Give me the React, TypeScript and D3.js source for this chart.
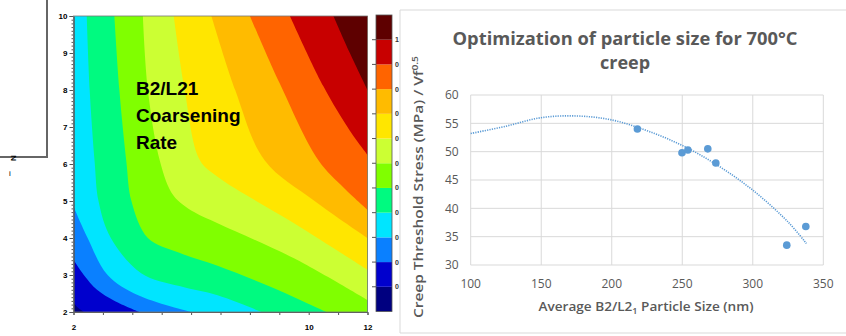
import React, { useEffect, useRef } from "react";
import * as d3 from "d3";

// --- contour map: each level boundary as [x, y] points,
// running from the top/left edge to the bottom/right edge (level k = start of band k)
const levelBoundaries: [number, number][][] = [
  [[2, 2.26], [2.15, 2.12], [2.35, 2.0]],
  [[2, 3.41], [2.35, 3.0], [2.8, 2.6], [3.4, 2.3], [4.25, 2.0]],
  [[2, 4.85], [2.48, 4.0], [3.16, 3.0], [4.2, 2.45], [6.0, 2.0]],
  [[2.45, 10], [2.55, 8], [2.72, 6.05], [2.85, 5], [3.27, 4], [4.3, 3.05], [5.6, 2.7], [6.9, 2.45], [8.4, 2.0]],
  [[3.39, 10], [3.56, 8], [3.8, 6.05], [3.97, 5], [4.53, 4], [5.6, 3.6], [6.9, 3.25], [8.8, 2.65], [10.6, 2.0]],
  [[4.36, 10], [4.53, 8], [4.95, 6.05], [5.4, 5.15], [6.1, 4.7], [6.9, 4.4], [9.5, 3.45], [12, 2.32]],
  [[5.41, 10], [5.78, 8], [6.3, 6.1], [6.91, 5.65], [9.5, 4.4], [12, 3.14]],
  [[6.69, 10], [7.5, 8], [8.5, 6.1], [10.2, 5.0], [12, 4.0]],
  [[8.0, 10], [9.0, 8.2], [10.33, 6.1], [11.2, 5.35], [12, 4.76]],
  [[9.36, 10], [10.5, 8.1], [11.4, 6.9], [12, 6.25]],
  [[10.84, 10], [11.4, 9.0], [12, 8.0]],
];
const levelColors = [
  "#000080", "#0000cd", "#0a80ff", "#00e5ff", "#00fa80", "#80ff00",
  "#ccff33", "#ffe600", "#ffbb00", "#ff6400", "#c80000", "#5e0000",
];
const colorbarLabels = ["1", "0", "0", "0", "0", "0", "0", "0", "0", "0", "0"];
const mapYTicks = [2, 3, 4, 5, 6, 7, 8, 9, 10];
const mapXTicks = [2, 3, 4, 5, 6, 7, 8, 9, 10, 11, 12];
const mapXLabeled = [2, 10, 12];
const mapText = ["B2/L21", "Coarsening", "Rate"];

// --- scatter: creep threshold stress vs particle size
const particleSize = [218.2, 249.8, 254.0, 268.1, 273.8, 324.1, 337.6];
const creepStress = [54.0, 49.8, 50.3, 50.5, 48.0, 33.5, 36.8];
const trendSize = [100, 125, 150, 175, 200, 225, 250, 275, 300, 325, 338];
const trendStress = [53.2, 54.5, 56.0, 56.3, 55.6, 53.7, 51.1, 47.6, 43.2, 37.6, 33.8];
const sizeTicks = [100, 150, 200, 250, 300, 350];
const stressTicks = [30, 35, 40, 45, 50, 55, 60];

const App: React.FC = () => {
  const svgRef = useRef<SVGSVGElement | null>(null);

  useEffect(() => {
    const svg = d3.select(svgRef.current);
    svg.selectAll("*").remove();

    // ---------- left: contour map ----------
    const cx = d3.scaleLinear().domain([2, 12]).range([73.5, 367.5]);
    const cy = d3.scaleLinear().domain([2, 10]).range([312, 16]);

    svg
      .append("defs")
      .append("clipPath")
      .attr("id", "mapClip")
      .append("rect")
      .attr("x", cx(2))
      .attr("y", cy(10))
      .attr("width", cx(12) - cx(2))
      .attr("height", cy(2) - cy(10));

    const map = svg.append("g").attr("clip-path", "url(#mapClip)");
    map
      .append("rect")
      .attr("x", cx(2))
      .attr("y", cy(10))
      .attr("width", cx(12) - cx(2))
      .attr("height", cy(2) - cy(10))
      .attr("fill", levelColors[0]);

    const edge = d3
      .line<[number, number]>()
      .x((d) => cx(d[0]))
      .y((d) => cy(d[1]))
      .curve(d3.curveCatmullRom.alpha(0.5));
    // band k covers everything up and to the right of boundary k; close it far outside the clip
    const bandPath = (pts: [number, number][]) =>
      edge(pts) +
      `L${cx(30)},${cy(-20)}L${cx(30)},${cy(30)}L${cx(-20)},${cy(30)}Z`;

    map
      .selectAll("path.band")
      .data(levelBoundaries)
      .join("path")
      .attr("class", "band")
      .attr("d", (d) => bandPath(d))
      .attr("fill", (_, i) => levelColors[i + 1]);

    const mapLabel = svg
      .append("text")
      .attr("x", 136)
      .attr("y", 95)
      .attr("font-family", "Liberation Sans, Arial, sans-serif")
      .attr("font-weight", "bold")
      .attr("font-size", 19)
      .attr("fill", "#000");
    mapText.forEach((t, i) => {
      mapLabel
        .append("tspan")
        .attr("x", 136)
        .attr("dy", i === 0 ? 0 : 27)
        .text(t);
    });

    // axes
    const axisFont = (g: any) =>
      g
        .attr("font-family", "Liberation Sans, Arial, sans-serif")
        .attr("font-size", 8)
        .attr("font-weight", "bold")
        .call((s: any) => s.select(".domain").attr("stroke", "#555"))
        .call((s: any) => s.selectAll(".tick line").attr("stroke", "#555"));

    svg
      .append("g")
      .attr("transform", `translate(${cx(2)},0)`)
      .call(d3.axisLeft(cy).tickValues(d3.range(2, 10.001, 0.1)).tickSize(2).tickFormat(() => ""))
      .call(axisFont);
    svg
      .append("g")
      .attr("transform", `translate(${cx(2)},0)`)
      .call(d3.axisLeft(cy).tickValues(mapYTicks).tickSize(4).tickPadding(2).tickFormat(d3.format("d")))
      .call(axisFont);
    svg
      .append("g")
      .attr("transform", `translate(0,${cy(2)})`)
      .call(
        d3
          .axisBottom(cx)
          .tickValues(mapXTicks)
          .tickSize(3)
          .tickPadding(9)
          .tickFormat((d: any) => (mapXLabeled.includes(d) ? String(d) : ""))
      )
      .call(axisFont);
    svg
      .append("rect")
      .attr("x", cx(2))
      .attr("y", cy(10))
      .attr("width", cx(12) - cx(2))
      .attr("height", cy(2) - cy(10))
      .attr("fill", "none")
      .attr("stroke", "#777")
      .attr("stroke-width", 0.8);

    // colorbar
    const cb = d3.scaleLinear().domain([0, levelColors.length]).range([311.5, 15]);
    svg
      .append("g")
      .selectAll("rect")
      .data(levelColors)
      .join("rect")
      .attr("x", 376)
      .attr("y", (_, i) => cb(i + 1))
      .attr("width", 16)
      .attr("height", (_, i) => cb(i) - cb(i + 1))
      .attr("fill", (d) => d);
    svg
      .append("rect")
      .attr("x", 376)
      .attr("y", cb(levelColors.length))
      .attr("width", 16)
      .attr("height", cb(0) - cb(levelColors.length))
      .attr("fill", "none")
      .attr("stroke", "#555")
      .attr("stroke-width", 0.8);
    const cbTicks = colorbarLabels.map((t, i) => ({ t, v: levelColors.length - 1 - i }));
    svg
      .append("g")
      .selectAll("line")
      .data(cbTicks)
      .join("line")
      .attr("x1", 372)
      .attr("x2", 376)
      .attr("y1", (d) => cb(d.v))
      .attr("y2", (d) => cb(d.v))
      .attr("stroke", "#555");
    svg
      .append("g")
      .selectAll("text")
      .data(cbTicks)
      .join("text")
      .attr("x", 395)
      .attr("y", (d) => cb(d.v))
      .attr("dy", "0.35em")
      .attr("font-family", "Liberation Sans, Arial, sans-serif")
      .attr("font-size", 7)
      .attr("font-weight", "bold")
      .attr("fill", "#333")
      .text((d) => d.t);

    // leftover frame from the slide at top-left
    svg
      .append("path")
      .attr("d", "M0,157H47V0")
      .attr("fill", "none")
      .attr("stroke", "#666")
      .attr("stroke-width", 2);
    svg
      .append("text")
      .attr("transform", "translate(16,158) rotate(-90)")
      .attr("text-anchor", "middle")
      .attr("font-family", "Liberation Sans, Arial, sans-serif")
      .attr("font-size", 8)
      .attr("font-weight", "bold")
      .text("N");
    svg
      .append("text")
      .attr("x", 10)
      .attr("y", 176)
      .attr("text-anchor", "middle")
      .attr("font-family", "Liberation Sans, Arial, sans-serif")
      .attr("font-size", 8)
      .text("i");

    // ---------- right: scatter chart ----------
    svg
      .append("path")
      .attr("d", "M850,10H400V333H850")
      .attr("fill", "none")
      .attr("stroke", "#d9d9d9")
      .attr("stroke-width", 1);

    const sx = d3.scaleLinear().domain([100, 350]).range([470.7, 823.3]);
    const sy = d3.scaleLinear().domain([30, 60]).range([265, 95]);
    const gray = "#595959";
    const font = "Open Sans, Noto Sans, sans-serif";

    const title = svg
      .append("text")
      .attr("text-anchor", "middle")
      .attr("font-family", font)
      .attr("font-weight", "bold")
      .attr("font-size", 18)
      .attr("fill", gray);
    title
      .append("tspan")
      .attr("x", 625)
      .attr("y", 45)
      .attr("textLength", 345)
      .attr("lengthAdjust", "spacingAndGlyphs")
      .text("Optimization of particle size for 700°C");
    title.append("tspan").attr("x", 625).attr("y", 69).text("creep");

    const grid = svg.append("g").attr("stroke", "#d9d9d9").attr("stroke-width", 1);
    grid
      .selectAll("line.h")
      .data(stressTicks)
      .join("line")
      .attr("class", "h")
      .attr("x1", sx(100))
      .attr("x2", sx(350))
      .attr("y1", (d) => sy(d))
      .attr("y2", (d) => sy(d));
    grid
      .selectAll("line.v")
      .data(sizeTicks)
      .join("line")
      .attr("class", "v")
      .attr("x1", (d) => sx(d))
      .attr("x2", (d) => sx(d))
      .attr("y1", sy(30))
      .attr("y2", sy(60));

    svg
      .append("g")
      .selectAll("text")
      .data(stressTicks)
      .join("text")
      .attr("x", sx(100) - 12)
      .attr("y", (d) => sy(d))
      .attr("dy", "0.35em")
      .attr("text-anchor", "end")
      .attr("font-family", font)
      .attr("font-size", 12)
      .attr("fill", gray)
      .text((d) => d);
    svg
      .append("g")
      .selectAll("text")
      .data(sizeTicks)
      .join("text")
      .attr("x", (d) => sx(d))
      .attr("y", sy(30) + 23)
      .attr("text-anchor", "middle")
      .attr("font-family", font)
      .attr("font-size", 12)
      .attr("fill", gray)
      .text((d) => d);

    const xTitle = svg
      .append("text")
      .attr("x", 646)
      .attr("y", 311)
      .attr("text-anchor", "middle")
      .attr("font-family", font)
      .attr("font-weight", 600)
      .attr("font-size", 12)
      .attr("fill", gray)
      .attr("textLength", 215)
      .attr("lengthAdjust", "spacingAndGlyphs");
    xTitle.append("tspan").text("Average B2/L2");
    xTitle.append("tspan").attr("font-size", 8).attr("dy", 3).text("1");
    xTitle.append("tspan").attr("dy", -3).text(" Particle Size (nm)");

    const yTitle = svg
      .append("text")
      .attr("transform", "translate(423,187) rotate(-90)")
      .attr("text-anchor", "middle")
      .attr("font-family", font)
      .attr("font-weight", 600)
      .attr("font-size", 12)
      .attr("fill", gray)
      .attr("textLength", 262)
      .attr("lengthAdjust", "spacingAndGlyphs");
    yTitle.append("tspan").text("Creep Threshold Stress (MPa) / Vf");
    yTitle.append("tspan").attr("font-size", 8).attr("dy", -5).text("0.5");

    const trend = d3
      .line<number>()
      .x((_, i) => sx(trendSize[i]))
      .y((d) => sy(d))
      .curve(d3.curveCatmullRom);
    svg
      .append("path")
      .datum(trendStress)
      .attr("d", trend)
      .attr("fill", "none")
      .attr("stroke", "#5b9bd5")
      .attr("stroke-width", 1.6)
      .attr("stroke-dasharray", "1.2 1.2");

    svg
      .append("g")
      .selectAll("circle")
      .data(particleSize)
      .join("circle")
      .attr("cx", (d) => sx(d))
      .attr("cy", (_, i) => sy(creepStress[i]))
      .attr("r", 3.8)
      .attr("fill", "#5b9bd5");
  }, []);

  return (
    <svg
      ref={svgRef}
      width={846}
      height={336}
      style={{ position: "absolute", left: 0, top: 0, background: "#fff" }}
    />
  );
};

export default App;
